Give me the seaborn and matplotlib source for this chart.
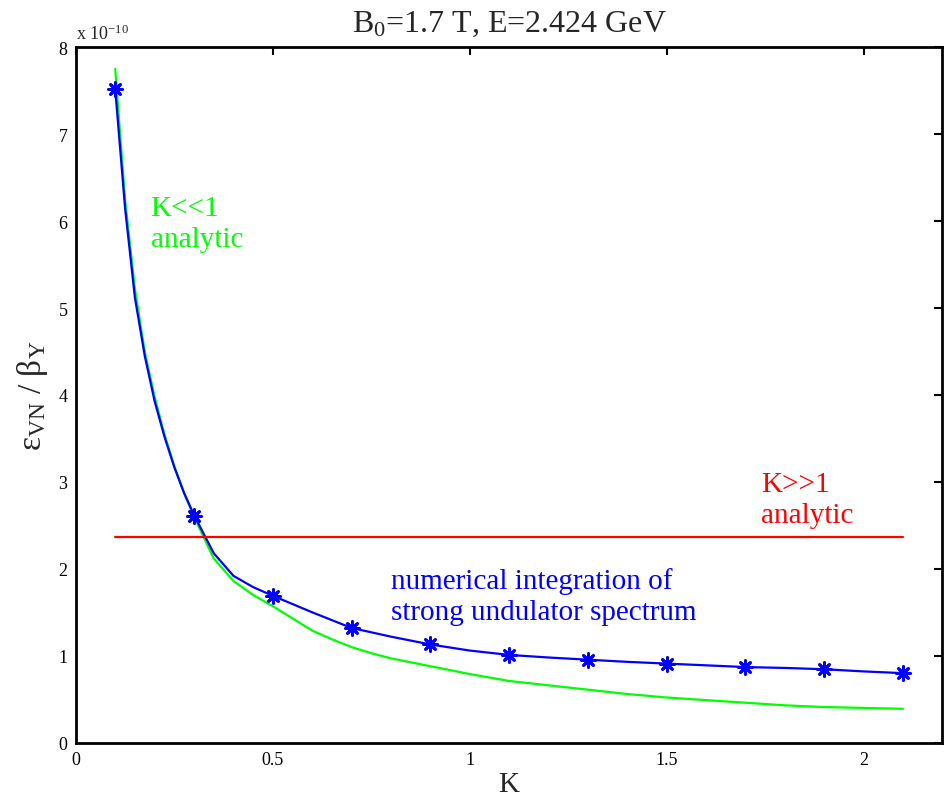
import numpy as np
import pandas as pd
import matplotlib
matplotlib.use('Agg')
import matplotlib.pyplot as plt
import seaborn as sns

# valores em unidades de 1e-10
k_markers = [0.1, 0.3, 0.5, 0.7, 0.9, 1.1, 1.3, 1.5, 1.7, 1.9, 2.1]
eps_markers = [7.52, 2.61, 1.69, 1.32, 1.13, 1.01, 0.955, 0.91, 0.87, 0.845, 0.80]

k_num = [0.1, 0.125, 0.15, 0.175, 0.2, 0.225, 0.25, 0.275, 0.3, 0.35, 0.4, 0.45, 0.5,
         0.6, 0.7, 0.8, 0.9, 1.0, 1.1, 1.2, 1.3, 1.4, 1.5, 1.6, 1.7, 1.8, 1.9, 2.0, 2.1]
eps_num = [7.52, 6.15, 5.12, 4.45, 3.93, 3.52, 3.17, 2.87, 2.62, 2.18, 1.92, 1.79, 1.69,
           1.50, 1.32, 1.22, 1.13, 1.06, 1.01, 0.98, 0.955, 0.93, 0.91, 0.89, 0.87, 0.86,
           0.845, 0.82, 0.80]

k_small = [0.1, 0.125, 0.15, 0.175, 0.2, 0.225, 0.25, 0.275, 0.3, 0.35, 0.4, 0.45, 0.5,
           0.55, 0.6, 0.65, 0.7, 0.75, 0.8, 0.9, 1.0, 1.1, 1.2, 1.3, 1.4, 1.5, 1.6, 1.7,
           1.8, 1.9, 2.0, 2.1]
eps_small = [7.75, 6.25, 5.22, 4.5, 3.98, 3.55, 3.18, 2.87, 2.6, 2.12, 1.86, 1.70, 1.57,
             1.43, 1.29, 1.19, 1.10, 1.03, 0.97, 0.88, 0.79, 0.71, 0.66, 0.61, 0.56, 0.52,
             0.49, 0.46, 0.43, 0.41, 0.40, 0.39]

k_large = [0.1, 2.1]
eps_large = [2.37, 2.37]

sns.set_theme(style='white')
plt.rcParams['font.family'] = ['Liberation Serif', 'DejaVu Serif']
plt.rcParams['mathtext.default'] = 'regular'

fig = plt.figure(figsize=(9.48, 8.04), dpi=100)
ax = fig.add_axes([0.080, 0.075, 0.914, 0.865])

sns.lineplot(x=k_small, y=eps_small, ax=ax, color=(0, 1, 0), linewidth=1.6, estimator=None)
sns.lineplot(x=k_num, y=eps_num, ax=ax, color=(0, 0, 1), linewidth=1.6, estimator=None)
sns.lineplot(x=k_large, y=eps_large, ax=ax, color=(1, 0, 0), linewidth=1.6, estimator=None)
sns.scatterplot(x=k_markers, y=eps_markers, ax=ax, color=(0, 0, 1), marker=(8, 2, 0),
                s=100, linewidth=2, edgecolor=(0, 0, 1), zorder=5)

ax.set_xlim(0, 2.2)
ax.set_ylim(0, 8)
ax.set_xticks([0, 0.5, 1, 1.5, 2])
ax.set_xticklabels(['0', '0.5', '1', '1.5', '2'])
ax.set_yticks(range(0, 9))
ax.tick_params(direction='in', length=6, width=1.5, top=True, right=True,
               labelsize=13, colors='black', pad=6)
for s in ax.spines.values():
    s.set_color('black')
    s.set_linewidth(2)

ax.set_title('B$_{0}$=1.7 T, E=2.424 GeV', fontsize=23, pad=12)
ax.set_xlabel('K', fontsize=21, labelpad=2)
ax.set_ylabel('ε$_{VN}$ / β$_{Y}$', fontsize=24, labelpad=6)
ax.text(0.0, 1.006, 'x 10$^{-10}$', transform=ax.transAxes, fontsize=13,
        ha='left', va='bottom')

ax.text(0.19, 6.3, 'K<<1\nanalytic', color=(0, 1, 0), fontsize=21,
        ha='left', va='top', linespacing=1.25)
ax.text(1.74, 3.12, 'K>>1\nanalytic', color=(1, 0, 0), fontsize=21,
        ha='left', va='top', linespacing=1.25)
ax.text(0.8, 2.02, 'numerical integration of\nstrong undulator spectrum', color=(0, 0, 1),
        fontsize=21, ha='left', va='top', linespacing=1.25)

fig.savefig('out.png', dpi=100)
